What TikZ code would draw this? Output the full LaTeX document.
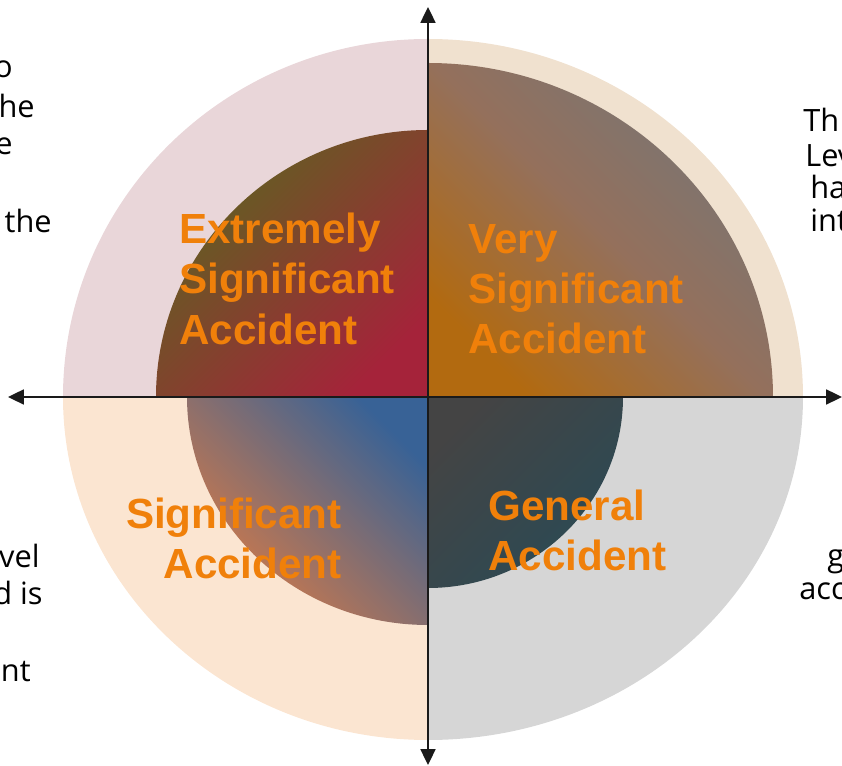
\documentclass[tikz,border=0pt]{standalone}
\usepackage{fontspec}
\setmainfont{Open Sans}
\newfontfamily\levelfont{Liberation Sans}
\usetikzlibrary{arrows.meta}

\definecolor{ringpink}{RGB}{233,214,217}
\definecolor{ringbeige}{RGB}{240,225,207}
\definecolor{ringpeach}{RGB}{251,229,209}
\definecolor{ringgray}{RGB}{214,214,214}
\definecolor{levelorange}{RGB}{240,128,10}

\begin{document}
\begin{tikzpicture}[x=0.02cm,y=0.02cm,
    level/.style={font=\levelfont\bfseries\fontsize{24}{28.5}\selectfont,
      text=levelorange,inner sep=0pt},
    side/.style={font=\fontsize{17.5}{21}\selectfont,inner sep=0pt}]
        \useasboundingbox (-428,-369) rectangle (414,397) ;
        % outer ring, one quarter at a time
        \fill[ringpink] (0,0) -- (-365,0) arc[start angle=180,end angle=90,x radius=365,y radius=358] -- cycle ;
        \fill[ringbeige] (0,0) -- (0,358) arc[start angle=90,end angle=0,x radius=375,y radius=358] -- cycle ;
        \fill[ringpeach] (0,0) -- (-365,0) arc[start angle=180,end angle=270,x radius=365,y radius=343] -- cycle ;
        \fill[ringgray] (0,0) -- (375,0) arc[start angle=0,end angle=-90,x radius=375,y radius=343] -- cycle ;
        % inner quarters
        \shade[top color={rgb,255:red,92;green,100;blue,32},bottom color={rgb,255:red,165;green,35;blue,58},shading angle=45]
        (0,0) -- (-272,0) arc[start angle=180,end angle=90,x radius=272,y radius=267] -- cycle ;
        \shade[top color={rgb,255:red,118;green,118;blue,118},bottom color={rgb,255:red,178;green,106;blue,16},
          middle color={rgb,255:red,148;green,112;blue,92},shading angle=-45]
        (0,0) -- (0,334) arc[start angle=90,end angle=0,x radius=345,y radius=334] -- cycle ;
        \shade[top color={rgb,255:red,56;green,98;blue,150},bottom color={rgb,255:red,218;green,123;blue,69},shading angle=-45]
        (0,0) -- (-241,0) arc[start angle=180,end angle=270,x radius=241,y radius=228] -- cycle ;
        \shade[top color={rgb,255:red,68;green,68;blue,68},bottom color={rgb,255:red,42;green,74;blue,85},shading angle=45]
        (0,0) -- (195,0) arc[start angle=0,end angle=-90,x radius=195,y radius=191] -- cycle ;
        % axes
        \coordinate (W) at (-420,0) ;
        \coordinate (E) at (414,0) ;
        \coordinate (N) at (0,390) ;
        \coordinate (S) at (0,-368) ;
        \draw[line width=1.1pt,color={rgb,255:red,26;green,26;blue,26},{Triangle[length=9pt,width=8.5pt]}-{Triangle[length=9pt,width=8.5pt]}] (W) -- (E) ;
        \draw[line width=1.1pt,color={rgb,255:red,26;green,26;blue,26},{Triangle[length=9pt,width=8.5pt]}-{Triangle[length=9pt,width=8.5pt]}] (S) -- (N) ;
        % accident levels
        \node[level,anchor=north west,align=left] (extreme) at (-249,184) {Extremely\\Significant\\Accident} ;
        \node[level,anchor=north west,align=left] (verysig) at (40,173) {Very\\Significant\\Accident} ;
        \node[level,anchor=north east,align=right] (signif) at (-86,-101) {Significant\\Accident} ;
        \node[level,anchor=north west,align=left] (general) at (60,-93) {General\\Accident} ;
        % side notes, cut off by the page edge
        \node[side,anchor=base east] (nwA) at (-415,319) {o} ;
        \node[side,anchor=base east] (nwB) at (-393,279) {he} ;
        \node[side,anchor=base east] (nwC) at (-415,242) {e} ;
        \node[side,anchor=base east] (nwD) at (-376,164) {the} ;
        \node[side,anchor=base west] (neA) at (375,265) {Th} ;
        \node[side,anchor=base west] (neB) at (377,230) {Lev} ;
        \node[side,anchor=base west] (neC) at (382,198) {ha} ;
        \node[side,anchor=base west] (neD) at (382,165) {int} ;
        \node[side,anchor=base east] (swA) at (-388,-171) {vel} ;
        \node[side,anchor=base east] (swB) at (-385,-208) {d is} ;
        \node[side,anchor=base east] (swC) at (-397,-285) {nt} ;
        \node[side,anchor=base west] (seA) at (399,-170) {g} ;
        \node[side,anchor=base west] (seB) at (371,-203) {acc} ;
      \end{tikzpicture}
\end{document}
